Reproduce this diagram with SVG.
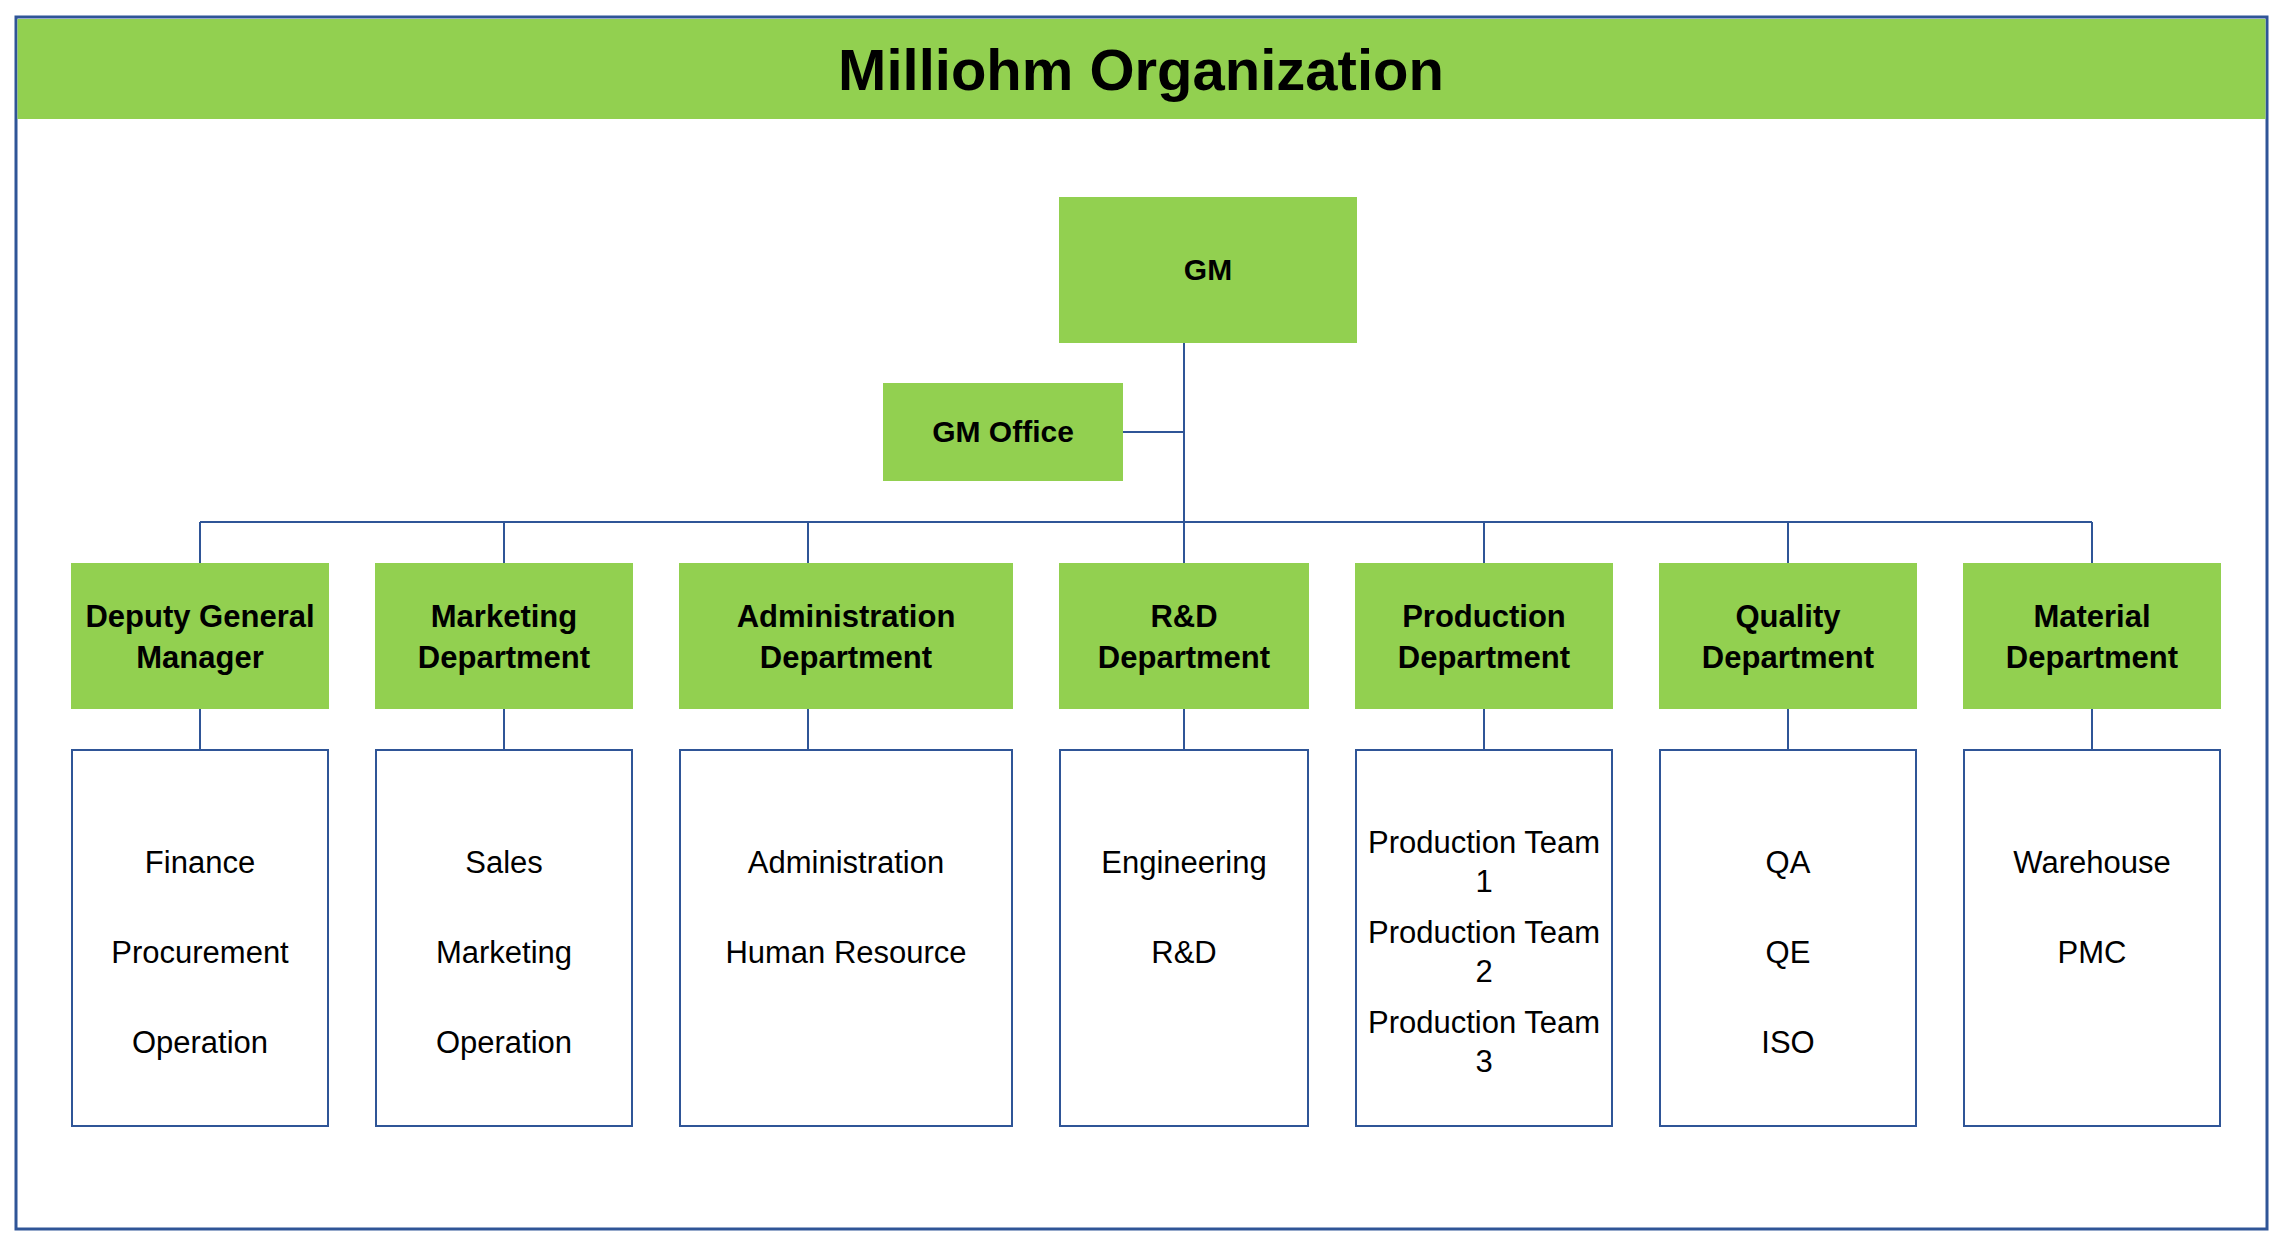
<svg xmlns="http://www.w3.org/2000/svg" width="2284" height="1246" viewBox="0 0 2284 1246">
<style>
.frame{fill:#ffffff;stroke:#2F5597;stroke-width:3}
.hdr{fill:#92D050}
.g{fill:#92D050}
.w{fill:#ffffff;stroke:#2F5597;stroke-width:2}
.c{fill:none;stroke:#2F5597;stroke-width:2}
text{font-family:"Liberation Sans",Arial,sans-serif;fill:#000000;text-anchor:middle}
.title{font-size:58px;font-weight:bold}
.b{font-size:31px;font-weight:bold}
.gm{font-size:30px;font-weight:bold}
.r{font-size:31px}
</style>
<rect width="2284" height="1246" fill="#ffffff"/>
<rect class="frame" x="16" y="17" width="2251" height="1212"/>
<rect class="hdr" x="17.5" y="19" width="2248" height="100"/>
<text class="title" x="1141" y="90">Milliohm Organization</text>

<g id="connectors">
<path class="c" d="M1184 343 V563 M1123 432 H1184 M200 522 H2092 M200 522 V563 M504 522 V563 M808 522 V563 M1484 522 V563 M1788 522 V563 M2092 522 V563"/>
<path class="c" d="M200 709 V750 M504 709 V750 M808 709 V750 M1184 709 V750 M1484 709 V750 M1788 709 V750 M2092 709 V750"/>
</g>

<g id="gm">
<rect class="g" x="1059" y="197" width="298" height="146"/>
<text class="gm" x="1208" y="280">GM</text>
</g>
<g id="gm-office">
<rect class="g" x="883" y="383" width="240" height="98"/>
<text class="gm" x="1003" y="442">GM Office</text>
</g>

<g id="dgm">
<rect class="g" x="71" y="563" width="258" height="146"/>
<text class="b" x="200" y="627">Deputy General</text>
<text class="b" x="200" y="668">Manager</text>
</g>
<g id="marketing">
<rect class="g" x="375" y="563" width="258" height="146"/>
<text class="b" x="504" y="627">Marketing</text>
<text class="b" x="504" y="668">Department</text>
</g>
<g id="administration">
<rect class="g" x="679" y="563" width="334" height="146"/>
<text class="b" x="846" y="627">Administration</text>
<text class="b" x="846" y="668">Department</text>
</g>
<g id="rnd">
<rect class="g" x="1059" y="563" width="250" height="146"/>
<text class="b" x="1184" y="627">R&amp;D</text>
<text class="b" x="1184" y="668">Department</text>
</g>
<g id="production">
<rect class="g" x="1355" y="563" width="258" height="146"/>
<text class="b" x="1484" y="627">Production</text>
<text class="b" x="1484" y="668">Department</text>
</g>
<g id="quality">
<rect class="g" x="1659" y="563" width="258" height="146"/>
<text class="b" x="1788" y="627">Quality</text>
<text class="b" x="1788" y="668">Department</text>
</g>
<g id="material">
<rect class="g" x="1963" y="563" width="258" height="146"/>
<text class="b" x="2092" y="627">Material</text>
<text class="b" x="2092" y="668">Department</text>
</g>

<g id="dgm-units">
<rect class="w" x="72" y="750" width="256" height="376"/>
<text class="r" x="200" y="873">Finance</text>
<text class="r" x="200" y="963">Procurement</text>
<text class="r" x="200" y="1053">Operation</text>
</g>
<g id="marketing-units">
<rect class="w" x="376" y="750" width="256" height="376"/>
<text class="r" x="504" y="873">Sales</text>
<text class="r" x="504" y="963">Marketing</text>
<text class="r" x="504" y="1053">Operation</text>
</g>
<g id="administration-units">
<rect class="w" x="680" y="750" width="332" height="376"/>
<text class="r" x="846" y="873">Administration</text>
<text class="r" x="846" y="963">Human Resource</text>
</g>
<g id="rnd-units">
<rect class="w" x="1060" y="750" width="248" height="376"/>
<text class="r" x="1184" y="873">Engineering</text>
<text class="r" x="1184" y="963">R&amp;D</text>
</g>
<g id="production-units">
<rect class="w" x="1356" y="750" width="256" height="376"/>
<text class="r" x="1484" y="853">Production Team</text>
<text class="r" x="1484" y="892">1</text>
<text class="r" x="1484" y="943">Production Team</text>
<text class="r" x="1484" y="982">2</text>
<text class="r" x="1484" y="1033">Production Team</text>
<text class="r" x="1484" y="1072">3</text>
</g>
<g id="quality-units">
<rect class="w" x="1660" y="750" width="256" height="376"/>
<text class="r" x="1788" y="873">QA</text>
<text class="r" x="1788" y="963">QE</text>
<text class="r" x="1788" y="1053">ISO</text>
</g>
<g id="material-units">
<rect class="w" x="1964" y="750" width="256" height="376"/>
<text class="r" x="2092" y="873">Warehouse</text>
<text class="r" x="2092" y="963">PMC</text>
</g>
</svg>
